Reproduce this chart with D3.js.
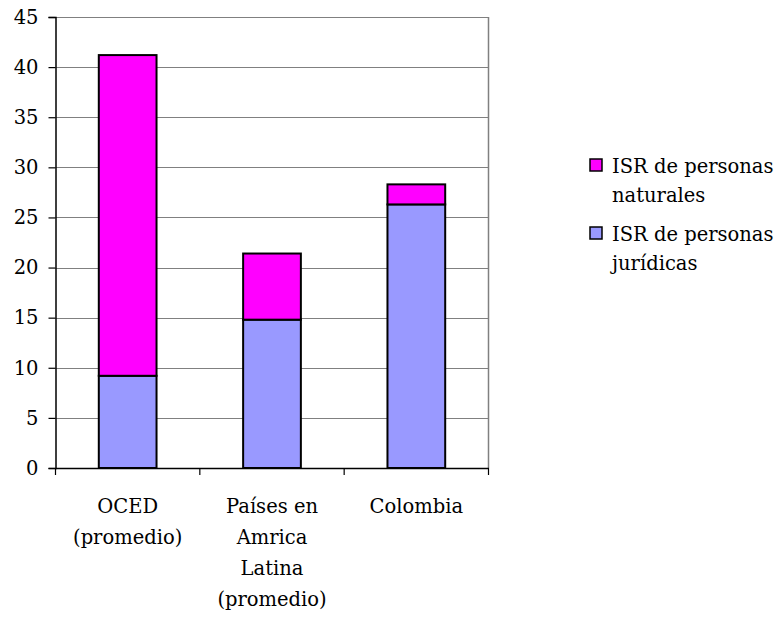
<!DOCTYPE html>
<html><head><meta charset="utf-8">
<script src="https://cdn.jsdelivr.net/npm/d3@7"></script>
<style>body{margin:0;background:#fff;} svg{display:block;}</style>
</head><body>
<script>
const categories = [["OCED","(promedio)"],["Países en","Amrica","Latina","(promedio)"],["Colombia"]];
const juridicas = [9.2, 14.8, 26.3];
const naturales = [32.0, 6.6, 2.0];
const yTicks = [0,5,10,15,20,25,30,35,40,45];
const legendLabels = [["ISR de personas","naturales"],["ISR de personas","jurídicas"]];
const colors = {naturales:"#FF00FF", juridicas:"#9999FF"};

const W=777,H=617;
const m={left:55.5,right:488.5,top:17,bottom:468};
const svg=d3.select("body").append("svg").attr("width",W).attr("height",H);
const font='DejaVu Serif';
const fs=19.5;

const x=d3.scaleBand().domain(d3.range(categories.length)).range([m.left,m.right]).paddingInner(0).paddingOuter(0);
const y=d3.scaleLinear().domain([0,45]).range([m.bottom,m.top]);

svg.append("g").selectAll("line").data(yTicks.filter(d=>d>0)).join("line")
  .attr("x1",m.left).attr("x2",m.right)
  .attr("y1",d=>Math.round(y(d))+0.5).attr("y2",d=>Math.round(y(d))+0.5)
  .attr("stroke","#808080").attr("stroke-width",1.2);
svg.append("line").attr("x1",m.right).attr("x2",m.right).attr("y1",m.top).attr("y2",m.bottom)
  .attr("stroke","#808080").attr("stroke-width",1.5);

const bw=x.bandwidth()*0.4;
const gBars=svg.append("g");
categories.forEach((c,i)=>{
  const cx=x(i)+x.bandwidth()/2;
  gBars.append("rect").attr("x",cx-bw/2).attr("width",bw)
    .attr("y",y(juridicas[i])).attr("height",y(0)-y(juridicas[i]))
    .attr("fill",colors.juridicas).attr("stroke","#000").attr("stroke-width",2);
  gBars.append("rect").attr("x",cx-bw/2).attr("width",bw)
    .attr("y",y(juridicas[i]+naturales[i])).attr("height",y(juridicas[i])-y(juridicas[i]+naturales[i]))
    .attr("fill",colors.naturales).attr("stroke","#000").attr("stroke-width",2);
});

const ya=svg.append("g").attr("transform",`translate(${m.left},0)`)
  .call(d3.axisLeft(y).tickValues(yTicks).tickSize(7).tickPadding(10));
ya.attr("font-family",font).attr("font-size",fs);
ya.select(".domain").attr("stroke","#000").attr("stroke-width",1.5);
ya.selectAll(".tick line").attr("stroke","#000").attr("stroke-width",1.2);
ya.selectAll("text").attr("fill","#000");

const xa=svg.append("g").attr("transform",`translate(0,${m.bottom})`)
  .call(d3.axisBottom(x).tickValues([]).tickSizeOuter(0));
xa.select(".domain").attr("stroke","#000").attr("stroke-width",1.5);
const bounds=[0,1,2,3].map(i=>i<3?x(i):m.right);
svg.append("g").selectAll("line").data(bounds).join("line")
  .attr("x1",d=>d).attr("x2",d=>d).attr("y1",m.bottom).attr("y2",m.bottom+7)
  .attr("stroke","#000").attr("stroke-width",1.2);

categories.forEach((lines,i)=>{
  const t=svg.append("text").attr("font-family",font).attr("font-size",fs)
    .attr("text-anchor","middle").attr("fill","#000");
  lines.forEach((l,j)=>{
    t.append("tspan").attr("x",x(i)+x.bandwidth()/2).attr("y",513+j*31).text(l);
  });
});

const leg=svg.append("g");
[["naturales",173],["juridicas",241]].forEach(([k,by],i)=>{
  leg.append("rect").attr("x",590).attr("y",by-14).attr("width",12).attr("height",12)
    .attr("fill",colors[k]).attr("stroke","#000").attr("stroke-width",1.5);
  const t=leg.append("text").attr("font-family",font).attr("font-size",fs).attr("fill","#000");
  legendLabels[i].forEach((l,j)=>t.append("tspan").attr("x",612).attr("y",by+j*29).text(l));
});
</script>
</body></html>
